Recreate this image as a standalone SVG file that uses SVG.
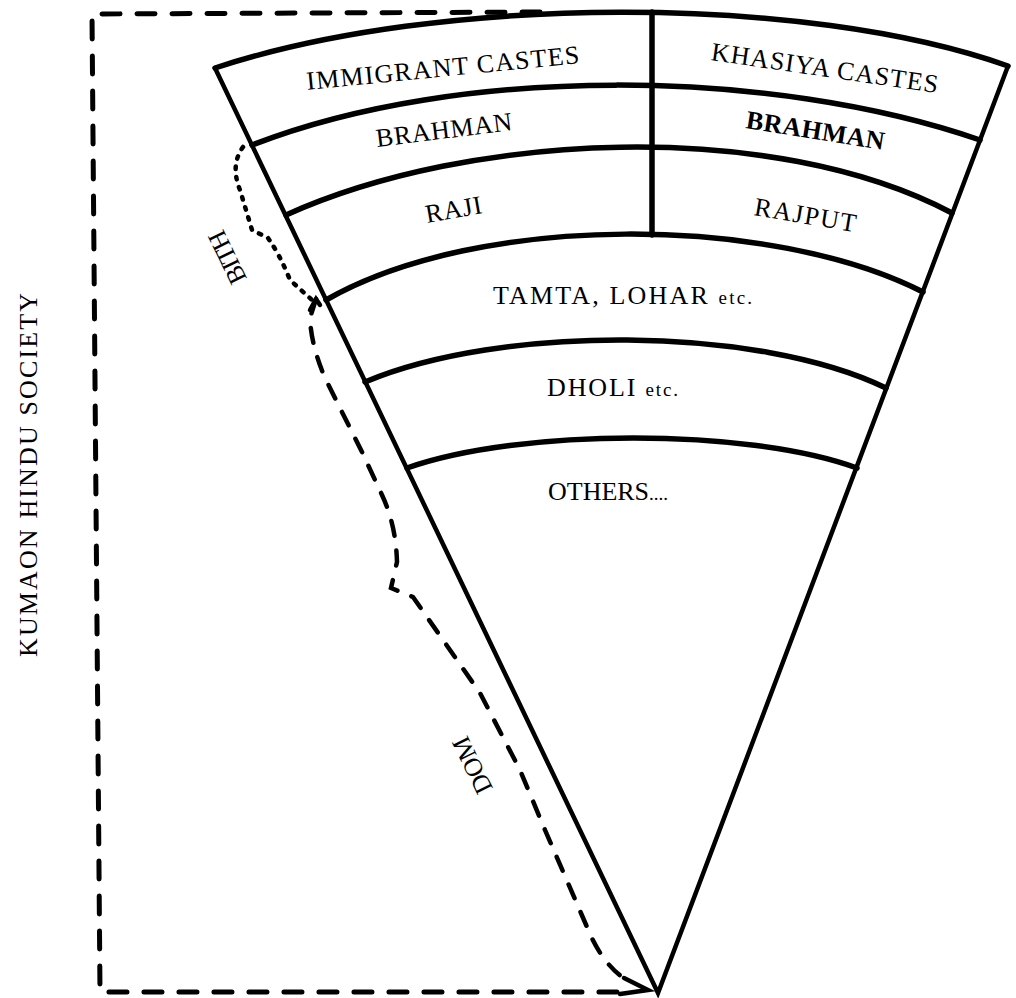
<svg xmlns="http://www.w3.org/2000/svg" width="1016" height="998" viewBox="0 0 1016 998">
<style>
.ln{fill:none;stroke:#000;stroke-width:5.5;stroke-linecap:round;stroke-linejoin:round}
.edge{fill:none;stroke:#000;stroke-width:4.5;stroke-linecap:round;stroke-linejoin:miter}
.dash{fill:none;stroke:#000;stroke-width:5;stroke-linecap:round;stroke-dasharray:18 17}
.dom{fill:none;stroke:#000;stroke-width:4.5;stroke-linecap:round;stroke-dasharray:15 15}
.dot{fill:none;stroke:#000;stroke-width:4.5;stroke-linecap:round;stroke-dasharray:2.5 8}
.t{font-family:"Liberation Serif","Times New Roman",serif;font-size:26px;fill:#000;text-anchor:middle}
.b{font-weight:bold}
.s{font-size:19px}
</style>
<rect width="1016" height="998" fill="#fff"/>
<g id="fan">
<path class="edge" d="M215,68 L658,993 L1008,66"/>
<path class="ln" d="M215,68 C440,-6 806,-6 1008,66"/>
<path class="ln" d="M252,145 C460,64 772,68 980,140"/>
<path class="ln" d="M286,215 C470,132 772,118 952,213"/>
<path class="ln" d="M326,300 C480,212 772,215 923,292"/>
<path class="ln" d="M365,382 C500,325 756,325 886,388"/>
<path class="ln" d="M407,468 C520,428 748,428 857,468"/>
<path class="ln" d="M652,12 L652,235"/>
</g>
<g id="immigrant-castes"><text class="t" transform="translate(443.5,76.5) rotate(-5.6)" textLength="274" lengthAdjust="spacing">IMMIGRANT CASTES</text></g>
<g id="khasiya-castes"><text class="t" transform="translate(823.5,76.5) rotate(8.3)" textLength="229" lengthAdjust="spacing">KHASIYA CASTES</text></g>
<g id="brahman-immigrant"><text class="t" transform="translate(445,138.5) rotate(-7.1)" textLength="137" lengthAdjust="spacing">BRAHMAN</text></g>
<g id="brahman-khasiya"><text class="t b" transform="translate(814,139) rotate(9.1)" textLength="140" lengthAdjust="spacing">BRAHMAN</text></g>
<g id="raji"><text class="t" transform="translate(455,218) rotate(-10)" textLength="57" lengthAdjust="spacing">RAJI</text></g>
<g id="rajput"><text class="t" transform="translate(804,223.5) rotate(9.5)" textLength="103" lengthAdjust="spacing">RAJPUT</text></g>
<g id="tamta-lohar"><text class="t" x="622.5" y="304" textLength="259" lengthAdjust="spacing">TAMTA, LOHAR <tspan class="s">etc.</tspan></text></g>
<g id="dholi"><text class="t" x="612.5" y="396" textLength="131" lengthAdjust="spacing">DHOLI <tspan class="s">etc.</tspan></text></g>
<g id="others"><text class="t" x="608" y="500" textLength="120" lengthAdjust="spacing">OTHERS<tspan class="s">....</tspan></text></g>
<g id="kumaon-hindu-society"><text class="t" transform="translate(37,475) rotate(-90)" font-size="27" textLength="364" lengthAdjust="spacing">KUMAON HINDU SOCIETY</text></g>
<g id="bith-label"><text class="t" transform="translate(235,253.5) rotate(-116)" font-size="24" textLength="56" lengthAdjust="spacing">BITH</text></g>
<g id="dom-label"><text class="t" transform="translate(480,761.5) rotate(-116)" font-size="24" textLength="60" lengthAdjust="spacing">DOM</text></g>
<g id="connectors">
<path class="dash" d="M540,12 L92,14 L100,992 L628,992"/>
<path class="dot" d="M243,147 Q230,165 240,190 L252,230 L268,238 Q280,255 290,280 L312,300"/>
<path class="dom" d="M316,299 L310,318 Q311,345 325,378 L362,452 L382,495 Q396,525 397,562 L391,588 L413,597 L480,693 L520,770 L545,830 L587,927 Q600,960 622,977"/>
<path class="edge" d="M310,310 L316,299 L320,305"/>
<path class="edge" d="M624,978 L648,990 L620,994"/>
</g>
</svg>
